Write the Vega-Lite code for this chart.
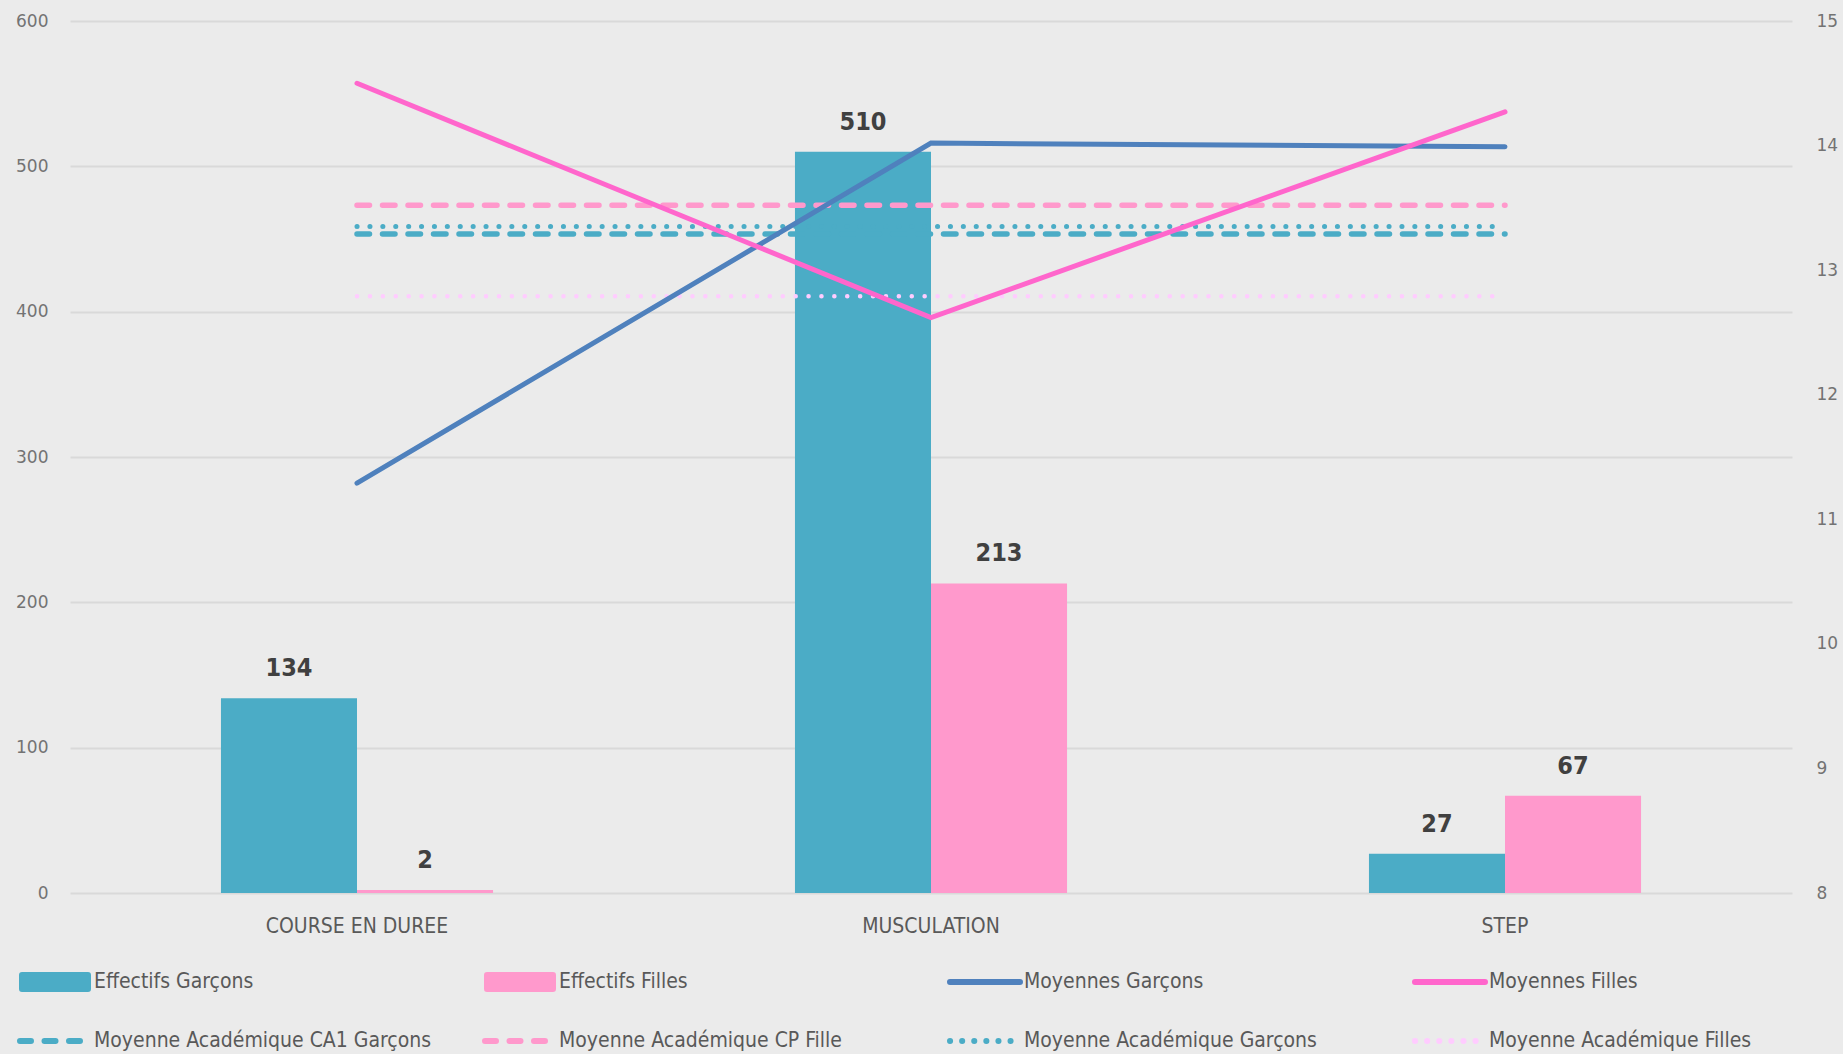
{
  "$schema": "https://vega.github.io/schema/vega-lite/v6.json",
  "width": 1722,
  "height": 872,
  "autosize": {"type": "none"},
  "padding": {"left": 70, "top": 21, "right": 51, "bottom": 161},
  "background": "#ebebeb",
  "config": {
    "view": {"stroke": null},
    "font": "Liberation Sans Narrow, DejaVu Sans Condensed, sans-serif"
  },
  "datasets": {
    "bars": [
      {"cat": "COURSE EN DUREE", "series": "Effectifs Garçons", "value": 134},
      {"cat": "COURSE EN DUREE", "series": "Effectifs Filles", "value": 2},
      {"cat": "MUSCULATION", "series": "Effectifs Garçons", "value": 510},
      {"cat": "MUSCULATION", "series": "Effectifs Filles", "value": 213},
      {"cat": "STEP", "series": "Effectifs Garçons", "value": 27},
      {"cat": "STEP", "series": "Effectifs Filles", "value": 67}
    ],
    "lines": [
      {"cat": "COURSE EN DUREE", "series": "Moyennes Garçons", "value": 11.29},
      {"cat": "MUSCULATION", "series": "Moyennes Garçons", "value": 14.02},
      {"cat": "STEP", "series": "Moyennes Garçons", "value": 13.99},
      {"cat": "COURSE EN DUREE", "series": "Moyennes Filles", "value": 14.5},
      {"cat": "MUSCULATION", "series": "Moyennes Filles", "value": 12.62},
      {"cat": "STEP", "series": "Moyennes Filles", "value": 14.27},
      {"cat": "COURSE EN DUREE", "series": "Moyenne Académique CA1 Garçons", "value": 13.29},
      {"cat": "MUSCULATION", "series": "Moyenne Académique CA1 Garçons", "value": 13.29},
      {"cat": "STEP", "series": "Moyenne Académique CA1 Garçons", "value": 13.29},
      {"cat": "COURSE EN DUREE", "series": "Moyenne Académique CP Fille", "value": 13.52},
      {"cat": "MUSCULATION", "series": "Moyenne Académique CP Fille", "value": 13.52},
      {"cat": "STEP", "series": "Moyenne Académique CP Fille", "value": 13.52},
      {"cat": "COURSE EN DUREE", "series": "Moyenne Académique Garçons", "value": 13.35},
      {"cat": "MUSCULATION", "series": "Moyenne Académique Garçons", "value": 13.35},
      {"cat": "STEP", "series": "Moyenne Académique Garçons", "value": 13.35},
      {"cat": "COURSE EN DUREE", "series": "Moyenne Académique Filles", "value": 12.79},
      {"cat": "MUSCULATION", "series": "Moyenne Académique Filles", "value": 12.79},
      {"cat": "STEP", "series": "Moyenne Académique Filles", "value": 12.79}
    ]
  },
  "encoding": {
    "x": {
      "field": "cat",
      "type": "nominal",
      "sort": ["COURSE EN DUREE", "MUSCULATION", "STEP"],
      "scale": {"paddingInner": 0.526, "paddingOuter": 0.263},
      "title": null,
      "axis": {
        "labelAngle": 0,
        "domain": false,
        "ticks": false,
        "labelFontSize": 21,
        "labelColor": "#595959",
        "labelPadding": 22,
        "labelLimit": 400
      }
    }
  },
  "layer": [
    {
      "data": {"name": "bars"},
      "encoding": {
        "xOffset": {
          "field": "series",
          "type": "nominal",
          "sort": ["Effectifs Garçons", "Effectifs Filles"],
          "scale": {"paddingInner": 0, "paddingOuter": 0}
        },
        "y": {
          "field": "value",
          "type": "quantitative",
          "scale": {"domain": [0, 600]},
          "title": null,
          "axis": {
            "orient": "left",
            "values": [0, 100, 200, 300, 400, 500, 600],
            "domain": false,
            "ticks": false,
            "grid": true,
            "gridColor": "#d9d9d9",
            "gridWidth": 2,
            "labelFont": "DejaVu Sans",
            "labelFontSize": 17,
            "labelColor": "#737373",
            "labelPadding": 22
          }
        }
      },
      "layer": [
        {
          "mark": {"type": "bar"},
          "encoding": {
            "color": {
              "field": "series",
              "type": "nominal",
              "scale": {
                "domain": ["Effectifs Garçons", "Effectifs Filles", "Moyennes Garçons", "Moyennes Filles", "Moyenne Académique CA1 Garçons", "Moyenne Académique CP Fille", "Moyenne Académique Garçons", "Moyenne Académique Filles"],
                "range": ["#4BACC6", "#FF99CC", "#4F81BD", "#FF66CC", "#4BACC6", "#FF99CC", "#4BACC6", "#FFCCFF"]
              },
              "legend": {
                "title": null,
                "orient": "none",
                "legendX": -43,
                "legendY": 933,
                "direction": "horizontal",
                "columns": 4,
                "gridAlign": "all",
                "columnPadding": 41,
                "rowPadding": 12,
                "symbolSize": 2500,
                "symbolStrokeWidth": 6,
                "labelFontSize": 21,
                "labelColor": "#595959",
                "labelOffset": 11,
                "labelLimit": 400,
                "encode": {
                  "symbols": {
                    "update": {
                      "shape": {"signal": "indexof(datum.value, 'Effectifs') == 0 ? 'M-1.32,-0.28H1.32V0.28H-1.32Z' : 'M-1.4,-0.28M1.4,0.28M-1.4,0H1.4'"},
                      "fill": {"signal": "indexof(datum.value, 'Effectifs') == 0 ? scale('color', datum.value) : 'transparent'"},
                      "stroke": {"signal": "indexof(datum.value, 'Effectifs') == 0 ? 'transparent' : scale('color', datum.value)"},
                      "strokeWidth": {"value": 6},
                      "strokeCap": {"value": "round"},
                      "opacity": {"value": 1},
                      "fillOpacity": {"value": 1},
                      "strokeOpacity": {"value": 1},
                      "strokeDash": {"signal": "(indexof(datum.value, 'CA1') >= 0 || indexof(datum.value, 'CP Fille') >= 0) ? [11, 13.5] : ((datum.value == 'Moyenne Académique Garçons' || datum.value == 'Moyenne Académique Filles') ? [0.1, 12] : [1, 0])"}
                    }
                  }
                }
              }
            }
          }
        },
        {
          "mark": {"type": "text", "baseline": "middle", "dy": -30, "fontSize": 25, "fontWeight": "bold", "color": "#404040"},
          "encoding": {
            "text": {"field": "value", "type": "quantitative"}
          }
        }
      ]
    },
    {
      "data": {"name": "lines"},
      "encoding": {
        "y": {
          "field": "value",
          "type": "quantitative",
          "scale": {"domain": [8, 15]},
          "title": null,
          "axis": {
            "orient": "right",
            "values": [8, 9, 10, 11, 12, 13, 14, 15],
            "format": "d",
            "domain": false,
            "ticks": false,
            "grid": false,
            "labelFont": "DejaVu Sans",
            "labelFontSize": 17,
            "labelColor": "#737373",
            "labelPadding": 24
          }
        },
        "color": {"field": "series", "type": "nominal"}
      },
      "layer": [
        {
          "transform": [{"filter": "datum.series == 'Moyenne Académique Filles'"}],
          "mark": {"type": "line", "strokeWidth": 4.5, "strokeDash": [0.1, 12.8], "strokeCap": "round"},
          "encoding": {}
        },
        {
          "transform": [{"filter": "datum.series == 'Moyenne Académique CA1 Garçons'"}],
          "mark": {"type": "line", "strokeWidth": 5.5, "strokeDash": [12.5, 13], "strokeCap": "round"},
          "encoding": {}
        },
        {
          "transform": [{"filter": "datum.series == 'Moyenne Académique Garçons'"}],
          "mark": {"type": "line", "strokeWidth": 5, "strokeDash": [0.1, 12.8], "strokeCap": "round"},
          "encoding": {}
        },
        {
          "transform": [{"filter": "datum.series == 'Moyenne Académique CP Fille'"}],
          "mark": {"type": "line", "strokeWidth": 5.5, "strokeDash": [12.5, 13], "strokeCap": "round"},
          "encoding": {}
        },
        {
          "transform": [{"filter": "datum.series == 'Moyennes Garçons' || datum.series == 'Moyennes Filles'"}],
          "mark": {"type": "line", "strokeWidth": 5, "strokeCap": "round"},
          "encoding": {}
        }
      ]
    }
  ],
  "resolve": {"scale": {"y": "independent"}}
}
